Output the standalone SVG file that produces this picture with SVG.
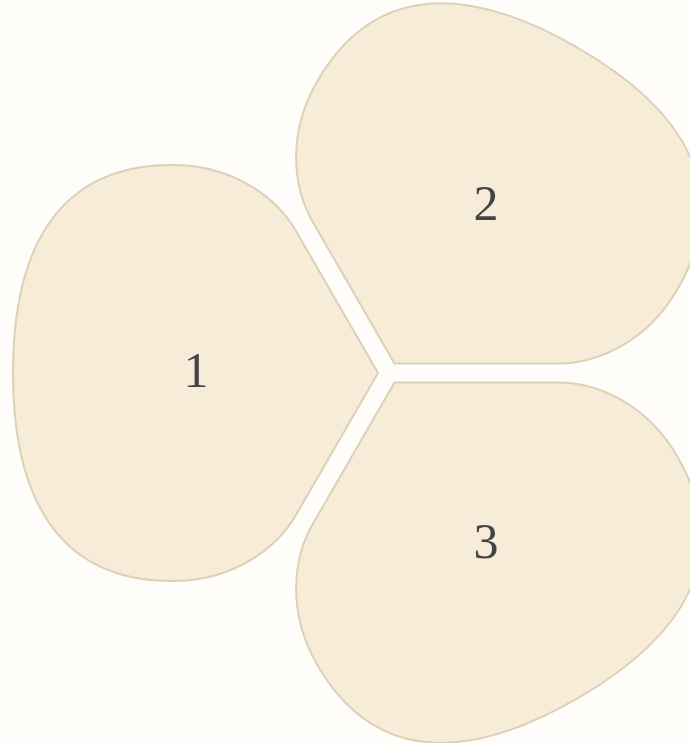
<svg xmlns="http://www.w3.org/2000/svg" width="690" height="743" viewBox="0 0 690 743">
  <style>
    .petal { fill: #F6ECD7; stroke: #DCD1B7; stroke-width: 2; }
    .label { font-family: "Liberation Serif", "DejaVu Serif", serif; font-size: 50px; fill: #444444; text-anchor: middle; }
  </style>
  <defs>
    <path id="petalShape" d="M 378 373 L 296 231 C 278.5 200.7 237 165 172 165 C 67 165 13 236 13 373 C 13 510 67 581 172 581 C 237 581 278.5 545.3 296 515 Z"/>
  </defs>
  <rect width="690" height="743" fill="#FEFDF9"/>
  <g id="node1">
    <use href="#petalShape" class="petal"/>
    <text class="label" x="196" y="387">1</text>
  </g>
  <g id="node2">
    <use href="#petalShape" class="petal" transform="rotate(120 389 373)"/>
    <text class="label" x="486" y="220">2</text>
  </g>
  <g id="node3">
    <use href="#petalShape" class="petal" transform="rotate(240 389 373)"/>
    <text class="label" x="486" y="558">3</text>
  </g>
  <g id="connectors"></g>
</svg>
